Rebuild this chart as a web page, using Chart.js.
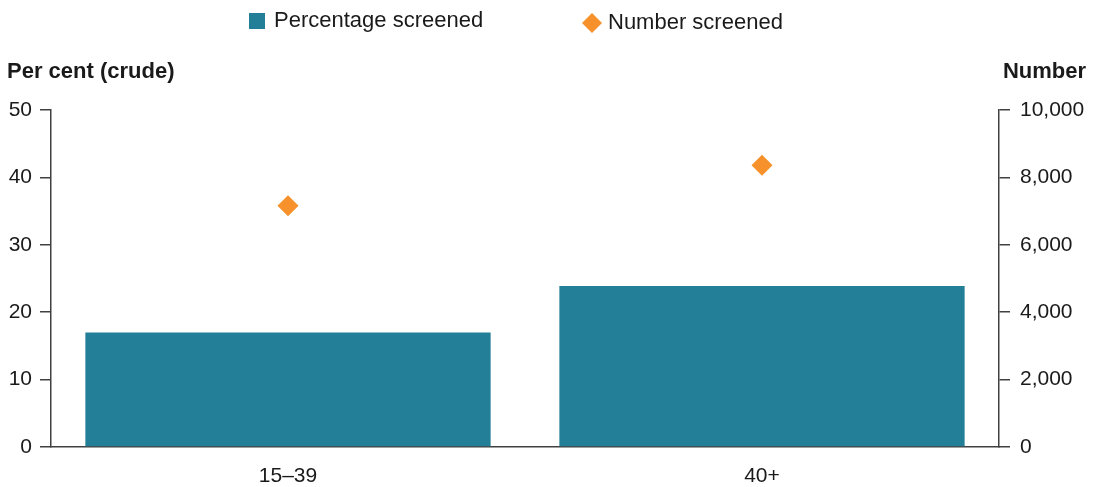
<!DOCTYPE html>
<html>
<head>
<meta charset="utf-8">
<title>Screening by age group</title>
<script src="https://cdn.jsdelivr.net/npm/chart.js@4.4.1/dist/chart.umd.min.js"></script>
<style>
  html, body { margin: 0; padding: 0; background: #fff; }
  #wrap { position: relative; width: 1098px; height: 487px; }
</style>
</head>
<body>
<div id="wrap"><canvas id="myChart"></canvas></div>
<script>
// data
const ageGroups = ['15–39', '40+'];
const percentScreened = [17.0, 23.9];
const numberScreened = [7160, 8360];

const seriesNames = ['Percentage screened', 'Number screened'];

const TEAL = '#237f97';
const ORANGE = '#f7912b';
const AXIS = '#404040';
const INK = '#1a1a1a';
const FONT = 'Arial, "Liberation Sans", sans-serif';

// axis titles sit flat above the axes, legend on top -> draw them by hand
const headerPlugin = {
  id: 'header',
  afterDraw(chart) {
    const ctx = chart.ctx;
    ctx.save();
    ctx.fillStyle = INK;
    ctx.textBaseline = 'middle';

    ctx.font = 'bold 22px ' + FONT;
    ctx.textAlign = 'left';
    ctx.fillText('Per cent (crude)', 7, 72);
    ctx.textAlign = 'right';
    ctx.fillText('Number', 1086, 72);

    // legend
    ctx.font = '22px ' + FONT;
    ctx.textAlign = 'left';
    ctx.fillStyle = TEAL;
    ctx.fillRect(249, 13, 16, 16);
    ctx.fillStyle = INK;
    ctx.fillText(seriesNames[0], 274, 21);

    ctx.fillStyle = ORANGE;
    ctx.beginPath();
    ctx.moveTo(592, 13);
    ctx.lineTo(602, 23);
    ctx.lineTo(592, 33);
    ctx.lineTo(582, 23);
    ctx.closePath();
    ctx.fill();
    ctx.fillStyle = INK;
    ctx.fillText(seriesNames[1], 608, 23);
    ctx.restore();
  }
};

const axisLine = { color: AXIS, width: 1.5 };

new Chart(document.getElementById('myChart'), {
  data: {
    labels: ageGroups,
    datasets: [
      {
        type: 'line',
        label: seriesNames[1],
        data: numberScreened,
        yAxisID: 'y1',
        showLine: false,
        pointStyle: 'rectRot',
        pointRadius: 10.5,
        pointHoverRadius: 10.5,
        pointBorderWidth: 0,
        pointBackgroundColor: ORANGE,
        borderColor: ORANGE
      },
      {
        type: 'bar',
        label: seriesNames[0],
        data: percentScreened,
        yAxisID: 'y',
        backgroundColor: TEAL,
        borderWidth: 0,
        categoryPercentage: 1,
        barPercentage: 0.855
      }
    ]
  },
  options: {
    responsive: true,
    maintainAspectRatio: false,
    animation: false,
    layout: { padding: { top: 110, left: 0, right: 0, bottom: 0 } },
    plugins: {
      legend: { display: false },
      tooltip: { enabled: false }
    },
    scales: {
      x: {
        z: 1,
        grid: { display: false, drawTicks: false },
        border: axisLine,
        ticks: { color: INK, font: { family: FONT, size: 21 }, padding: 17 },
        afterFit(scale) { scale.height = 40; }
      },
      y: {
        position: 'left',
        min: 0,
        max: 50,
        ticks: { stepSize: 10, color: INK, font: { family: FONT, size: 21 }, padding: 8 },
        grid: { drawOnChartArea: false, color: AXIS, lineWidth: 1.5, tickLength: 11 },
        border: axisLine,
        afterFit(scale) { scale.width = 51; }
      },
      y1: {
        position: 'right',
        min: 0,
        max: 10000,
        ticks: { stepSize: 2000, color: INK, font: { family: FONT, size: 21 }, padding: 10 },
        grid: { drawOnChartArea: false, color: AXIS, lineWidth: 1.5, tickLength: 11 },
        border: axisLine,
        afterFit(scale) { scale.width = 99; }
      }
    }
  },
  plugins: [headerPlugin]
});
</script>
</body>
</html>
